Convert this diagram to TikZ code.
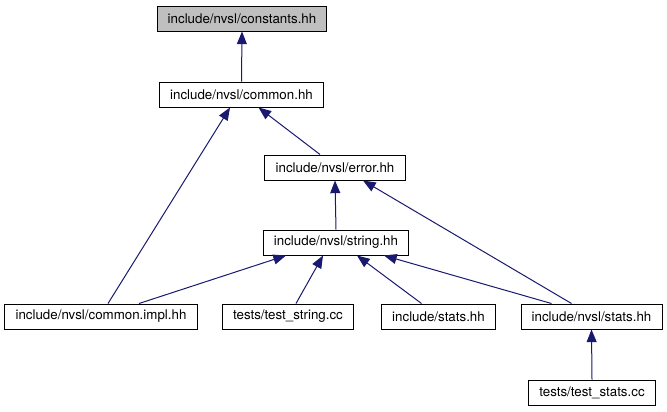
\documentclass[tikz,border=0pt]{standalone}
\usepackage{fontspec}
\setmainfont{TeX Gyre Heros}
\usepackage{tikz}
\usetikzlibrary{arrows.meta}
\definecolor{edgeblue}{HTML}{191970}
\definecolor{rootgray}{HTML}{BFBFBF}

\begin{document}
\begin{tikzpicture}[x=0.75pt,y=-0.75pt,
	file/.style={draw=black,line width=0.75pt,fill=white,inner xsep=8pt,inner ysep=0pt,minimum height=18.75pt,font=\fontsize{10}{12}\selectfont},
	edge/.style={draw=edgeblue,line width=0.75pt,{Triangle[length=9.5pt,width=7.5pt]}-}]
	\useasboundingbox (0,0) rectangle (667,411);
	\node[file,fill=rootgray] (constants) at (242,18.5) {include/nvsl/constants.hh};
	\node[file] (common) at (241.5,94.5) {include/nvsl/common.hh};
	\node[file] (error) at (335,167.5) {include/nvsl/error.hh};
	\node[file] (string) at (336,242.5) {include/nvsl/string.hh};
	\node[file] (cimpl) at (101,316.5) {include/nvsl/common.impl.hh};
	\node[file] (tstring) at (288,316.5) {tests/test\_string.cc};
	\node[file] (istats) at (438.5,316.5) {include/stats.hh};
	\node[file] (nstats) at (591.5,316.5) {include/nvsl/stats.hh};
	\node[file] (tstats) at (592,392.5) {tests/test\_stats.cc};
	\draw[edge] (constants.south) -- (common.north);
	\draw[edge] ([xshift=-8.6pt]common.south) -- ([xshift=5.25pt]cimpl.north);
	\draw[edge] ([xshift=12.75pt]common.south) -- ([xshift=-11.25pt]error.north);
	\draw[edge] (error.south) -- (string.north);
	\draw[edge] ([xshift=21pt]error.south) -- ([xshift=-15pt]nstats.north);
	\draw[edge] ([xshift=-37.5pt]string.south) -- ([xshift=28.5pt]cimpl.north);
	\draw[edge] ([xshift=-9.75pt]string.south) -- ([xshift=6pt]tstring.north);
	\draw[edge] ([xshift=15.75pt]string.south) -- ([xshift=-12.75pt]istats.north);
	\draw[edge] ([xshift=36pt]string.south) -- ([xshift=-30pt]nstats.north);
	\draw[edge] (nstats.south) -- (tstats.north);
\end{tikzpicture}
\end{document}
